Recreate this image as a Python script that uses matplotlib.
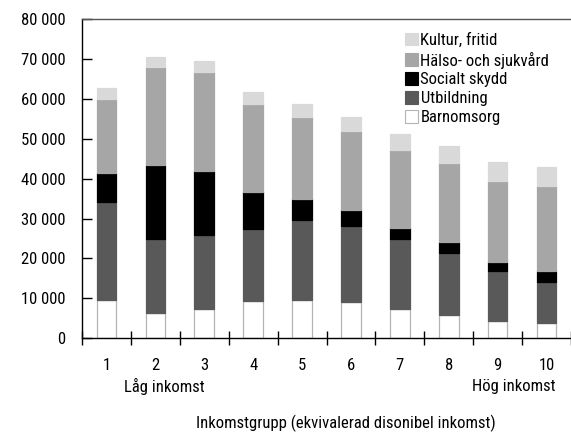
import matplotlib
matplotlib.use("Agg")
import matplotlib.pyplot as plt
from matplotlib.ticker import FuncFormatter
import numpy as np

plt.rcParams['font.family'] = ['Roboto Condensed', 'DejaVu Sans']

# income groups 1..10
groups = ['1', '2', '3', '4', '5', '6', '7', '8', '9', '10']

# stacked segments (kr per person), bottom to top
barnomsorg = [9500, 6300, 7400, 9300, 9600, 9000, 7300, 5900, 4300, 3800]
utbildning = [24700, 18600, 18600, 18200, 20050, 19200, 17550, 15470, 12600, 10360]
socialt_skydd = [7100, 18540, 15880, 9030, 5350, 4010, 2750, 2760, 2180, 2750]
halso_sjukvard = [18700, 24490, 24720, 22220, 20540, 19650, 19630, 19870, 20380, 21310]
kultur_fritid = [2750, 2580, 2850, 3080, 3260, 3660, 3930, 4260, 4690, 4760]

series = [
    ('Barnomsorg', barnomsorg, '#ffffff', '#b4b4b4'),
    ('Utbildning', utbildning, '#595959', '#595959'),
    ('Socialt skydd', socialt_skydd, '#000000', '#000000'),
    ('Hälso- och sjukvård', halso_sjukvard, '#a6a6a6', '#a6a6a6'),
    ('Kultur, fritid', kultur_fritid, '#d9d9d9', '#d9d9d9'),
]

fs = 12
fig = plt.figure(figsize=(5.71, 4.32), dpi=100)
ax = fig.add_axes([82 / 571, 1 - 338.3 / 432, (571 - 82) / 571, (338.3 - 19) / 432])

x = np.arange(1, len(groups) + 1)
bottom = np.zeros(len(groups))
handles = []
for name, vals, col, edge in series:
    b = ax.bar(x, vals, 0.4, bottom=bottom, color=col, edgecolor=edge,
               linewidth=0.9, label=name)
    bottom += np.array(vals)
    handles.append(b)

ax.set_xlim(0.5, 0.5 + (571 - 82) / 49.3)
ax.set_ylim(0, 80000)
ax.set_yticks(np.arange(0, 80001, 10000))
ax.yaxis.set_major_formatter(FuncFormatter(lambda v, p: f"{int(v):,}".replace(',', ' ')))

# tick marks between groups, labels at the bar centres
ax.set_xticks(np.arange(0.5, 11, 1.0))
ax.set_xticklabels([])
ax.set_xticks(x, minor=True)
ax.set_xticklabels(groups, minor=True)
ax.tick_params(axis='x', which='major', direction='inout', length=10, width=1)
ax.tick_params(axis='x', which='minor', length=0, pad=14, labelsize=fs)
ax.tick_params(axis='y', direction='in', length=7, width=1, pad=12, labelsize=fs)

ax.spines['right'].set_visible(False)
for s in ['left', 'bottom', 'top']:
    ax.spines[s].set_linewidth(1.0)
ax.spines['top'].set_color('#555555')

ax.text(2.18, -0.152, 'Låg inkomst', transform=ax.get_xaxis_transform(),
        ha='center', va='center', fontsize=fs)
ax.text(10.18, -0.152, 'Hög inkomst', transform=ax.get_xaxis_transform(),
        ha='right', va='center', fontsize=fs)
fig.text(346 / 571, 1 - 423 / 432, 'Inkomstgrupp (ekvivalerad disonibel inkomst)',
         ha='center', va='center', fontsize=fs)

leg = ax.legend(handles[::-1], [s[0] for s in series][::-1], loc='upper left',
                bbox_to_anchor=((398 - 82) / 489, 1 - 7 / 319), frameon=False,
                fontsize=fs, handlelength=0.8, handleheight=0.8,
                handletextpad=0.15, labelspacing=0.22, borderaxespad=0)
for h in leg.legend_handles:
    h.set_linewidth(0.8)

fig.savefig('out.png', dpi=100)
